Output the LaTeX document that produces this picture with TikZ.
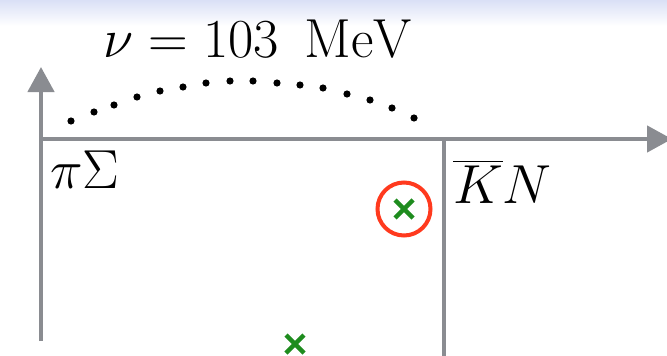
\RequirePackage{fix-cm}
\documentclass[tikz,border=0pt]{standalone}
\usepackage{exscale}
\usetikzlibrary{arrows.meta}
\definecolor{axisgray}{RGB}{138,140,145}
\definecolor{polegreen}{RGB}{30,140,30}
\definecolor{ringred}{RGB}{255,58,30}
\definecolor{topblue}{RGB}{218,224,246}
\tikzset{
  axis/.style={line width=4.5pt, draw=axisgray, -{Triangle[length=25pt,width=26pt]}},
  plainaxis/.style={line width=4.5pt, draw=axisgray},
  pole/.style={line width=4.5pt, draw=polegreen},
  ring/.style={line width=4pt, draw=ringred},
  bigtext/.style={inner sep=0pt, font=\fontsize{55}{66}\selectfont},
}
\begin{document}
\begin{tikzpicture}[x=1pt,y=-1pt]
\useasboundingbox (0,0) rectangle (667,356);
\clip (0,0) rectangle (667,356);
\fill[white] (0,0) rectangle (667,356);
\shade[top color=topblue, bottom color=white] (0,0) rectangle (667,26);
% coordinates
\coordinate (o) at (41,139);
\coordinate (ybot) at (41,341);
\coordinate (ytop) at (41,67);
\coordinate (xend) at (672,139);
\coordinate (cut) at (444,139);
\coordinate (cutbot) at (444,360);
% axes
\draw[plainaxis] (ybot) -- (o);
\draw[axis] (o) -- (ytop);
\draw[axis] (o) -- (xend);
\draw[plainaxis] (cut) -- (cutbot);
% dotted arc
\foreach \p in {(71,121),(94,112),(114,105),(137,97),(160,91),(183,87),(206,83),(230,81),(253,81),(277,83),(300,85),(323,88),(347,94),(370,100),(392,108),(414,118)}
  \fill[black] \p circle (3.6);
% labels
\node[bigtext, anchor=base] (nu) at (258,57) {$\nu = 103\,\ \mathrm{MeV}$};
\node[bigtext, anchor=base west] (pisigma) at (50,188) {$\pi\Sigma$};
\node[bigtext, anchor=base west] (kbarn) at (453,203) {$\overline{K}N$};
% poles
\coordinate (p1) at (404,209);
\coordinate (p2) at (295,344);
\draw[ring] (p1) circle (26.5);
\draw[pole] ([shift={(-9,-9)}]p1) -- ([shift={(9,9)}]p1);
\draw[pole] ([shift={(-9,9)}]p1) -- ([shift={(9,-9)}]p1);
\draw[pole] ([shift={(-9,-9)}]p2) -- ([shift={(9,9)}]p2);
\draw[pole] ([shift={(-9,9)}]p2) -- ([shift={(9,-9)}]p2);
\end{tikzpicture}
\end{document}
